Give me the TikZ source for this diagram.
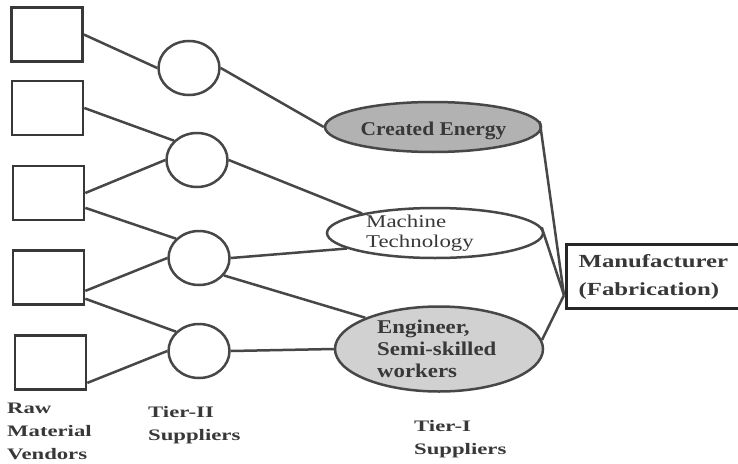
\documentclass[tikz,border=0pt]{standalone}
\usepackage{fontspec}
\setmainfont{Liberation Serif}
% wide serif cuts for the different labels
\newfontfamily\fEnergy[FakeStretch=1.10]{Liberation Serif}
\newfontfamily\fMachine[FakeStretch=1.27]{Liberation Serif}
\newfontfamily\fWorkers[FakeStretch=1.17]{Liberation Serif}
\newfontfamily\fMaker[FakeStretch=1.34]{Liberation Serif}
\newfontfamily\fTier[FakeStretch=1.42]{Liberation Serif}
\usetikzlibrary{shapes.geometric,calc}

\definecolor{ink}{gray}{0.22}
\definecolor{edge}{gray}{0.28}
\definecolor{shadeA}{gray}{0.70}
\definecolor{shadeB}{gray}{0.82}

\tikzset{
  vendor/.style={draw=ink, line width=2.6pt, minimum width=71pt, minimum height=54pt, inner sep=0pt},
  supplier/.style={ellipse, draw=edge, line width=2.5pt, minimum width=61pt, minimum height=54pt, inner sep=0pt},
  tierone/.style={ellipse, draw=edge, line width=2.5pt, inner sep=0pt},
  link/.style={draw=edge, line width=2.5pt},
  caption/.style={font=\fTier\bfseries\fontsize{16}{23}\selectfont, text=ink, align=left, anchor=north west, inner sep=0pt},
  inlabel/.style={text=ink, inner sep=0pt}
}

\begin{document}
\begin{tikzpicture}[x=1pt,y=-1pt]
\clip (0,0) rectangle (738,463);
\fill[white] (0,0) rectangle (738,463);

% raw material vendors
\node[vendor] (v1) at (47,34.5) {};
\node[vendor] (v2) at (47.5,108) {};
\node[vendor] (v3) at (48.5,193) {};
\node[vendor] (v4) at (48.5,277.5) {};
\node[vendor] (v5) at (50.5,362.5) {};

% tier-II suppliers
\node[supplier] (c1) at (189,68) {};
\node[supplier] (c2) at (197,160) {};
\node[supplier] (c3) at (199,258) {};
\node[supplier] (c4) at (199,351) {};

% tier-I suppliers
\node[tierone, fill=shadeA, minimum width=216pt, minimum height=50pt] (ce) at (433,127) {};
\node[tierone, fill=white, minimum width=216pt, minimum height=50pt] (mt) at (435,233) {};
\node[tierone, fill=shadeB, minimum width=208pt, minimum height=85pt] (en) at (439,349) {};

\node[inlabel, anchor=north, font=\fEnergy\bfseries\fontsize{19.5}{22}\selectfont] (ceT) at (433.5,121.5) {Created Energy};
\node[inlabel, anchor=north west, align=left, font=\fMachine\fontsize{18}{20}\selectfont] (mtT) at (366,214.5) {Machine\\Technology};
\node[inlabel, anchor=north west, align=left, font=\fWorkers\bfseries\fontsize{19.5}{22}\selectfont] (enT) at (377,320) {Engineer,\\Semi-skilled\\workers};

% manufacturer
\node[draw=black!85, line width=3.2pt, anchor=north west, text width=160pt, inner xsep=12pt, inner ysep=9.5pt,
      align=left, text=ink, font=\fMaker\bfseries\fontsize{18.5}{28}\selectfont] (mf) at (565,243)
      {Manufacturer\\(Fabrication)};
\coordinate (mfin) at ($(mf.south west)+(-1,-15)$);

% vendors to tier-II
\draw[link] (v1.east) -- (c1.west);
\draw[link] (v2.east) -- (c2.140);
\draw[link] (v3.east) -- (c2.west);
\draw[link] (v3.-22) -- (c3.140);
\draw[link] (v4.-20) -- (c3.west);
\draw[link] (v4.-30) -- (c4.140);
\draw[link] (v5.-29) -- (c4.west);

% tier-II to tier-I
\draw[link] (c1.east) -- (ce.west);
\draw[link] (c2.east) -- (mt.165);
\draw[link] (c3.east) -- (mt.190);
\draw[link] (c3.-35) -- (en.157);
\draw[link] (c4.east) -- (en.west);

% tier-I to manufacturer
\draw[link] (ce.3) -- (mfin);
\draw[link] (mt.3) -- (mfin);
\draw[link] (en.5) -- (mfin);

% column captions
\node[caption] (capRaw) at (7,403) {Raw\\Material\\Vendors};
\node[caption] (capT2) at (148,406) {Tier-II\\Suppliers};
\node[caption] (capT1) at (414,420) {Tier-I\\Suppliers};
\end{tikzpicture}
\end{document}
